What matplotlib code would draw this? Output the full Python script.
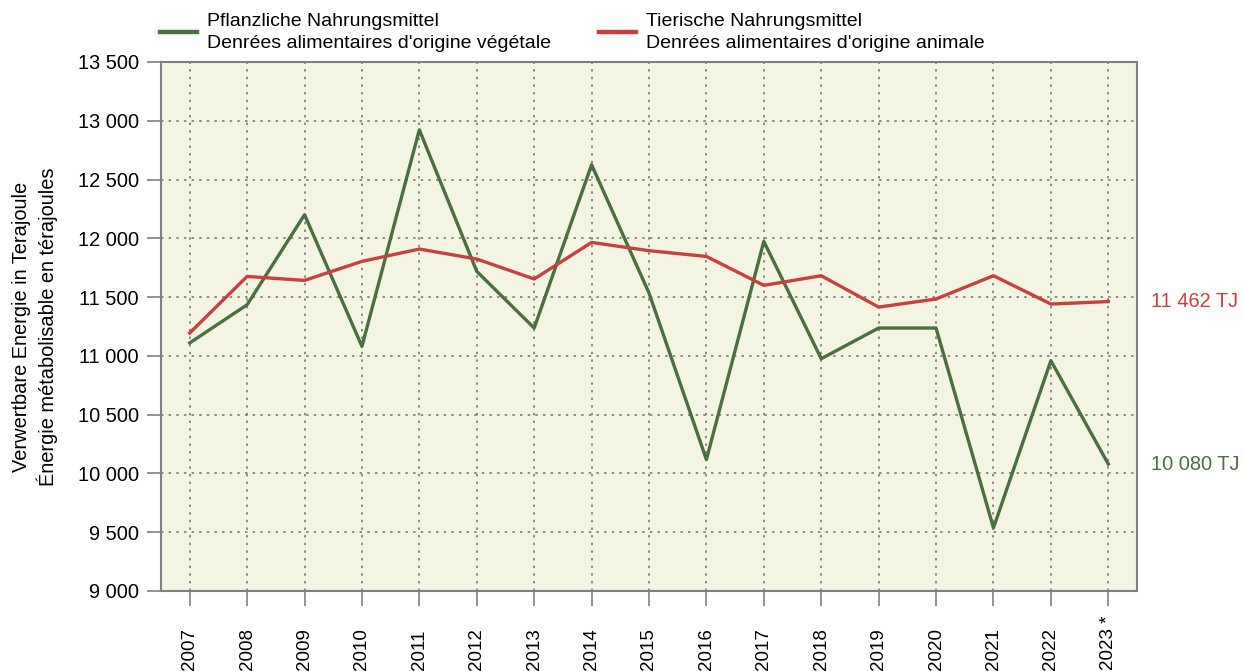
import matplotlib.pyplot as plt
from matplotlib.ticker import FuncFormatter, MultipleLocator
from matplotlib.transforms import blended_transform_factory

plt.rcParams["font.family"] = ["Liberation Sans", "DejaVu Sans"]

# --- Data -----------------------------------------------------------------

years = ["2007", "2008", "2009", "2010", "2011", "2012", "2013", "2014", "2015",
         "2016", "2017", "2018", "2019", "2020", "2021", "2022", "2023 *"]

plant_tj = [11110, 11435, 12201, 11081, 12923, 11719, 11237, 12626, 11535,
            10118, 11974, 10976, 11237, 11237, 9537, 10959, 10080]

animal_tj = [11195, 11676, 11642, 11804, 11909, 11824, 11654, 11965, 11895,
             11846, 11600, 11682, 11415, 11484, 11682, 11441, 11462]

plant_label = "Pflanzliche Nahrungsmittel\nDenrées alimentaires d'origine végétale"
animal_label = "Tierische Nahrungsmittel\nDenrées alimentaires d'origine animale"
ylabel = "Verwertbare Energie in Terajoule\nÉnergie métabolisable en térajoules"

GREEN = "#4B7040"
RED = "#C8403F"
BG = "#F4F4E3"
GRAY = "#808080"


def thousands(v, _pos):
    return f"{int(v):,}".replace(",", " ")


fig = plt.figure(figsize=(12.43, 6.71), dpi=100)
ax = fig.add_axes([161 / 1243, 1 - 591 / 671, 976 / 1243, 529 / 671])
ax.set_facecolor(BG)

x = list(range(len(years)))
plant_line, = ax.plot(x, plant_tj, color=GREEN, lw=2.4, label=plant_label, zorder=3)
animal_line, = ax.plot(x, animal_tj, color=RED, lw=2.4, label=animal_label, zorder=3)

ax.set_xlim(-0.5, len(years) - 0.5)
ax.set_ylim(9000, 13500)
ax.yaxis.set_major_locator(MultipleLocator(500))
ax.yaxis.set_major_formatter(FuncFormatter(thousands))
ax.set_xticks(x)
ax.set_xticklabels([])

# year labels: rotated, all ending at the bottom edge of the figure
year_trans = blended_transform_factory(ax.transData, fig.transFigure)
for i, yr in enumerate(years):
    ax.text(i, 1.5 / 671, yr, transform=year_trans, rotation=90,
            ha="center", va="bottom", fontsize=13.5)

ax.grid(True, color="#6E6E6E", lw=1.1, linestyle=(0, (1.6, 3.4)))
ax.set_axisbelow(True)

for side in ["left", "right", "top", "bottom"]:
    ax.spines[side].set_color(GRAY)
    ax.spines[side].set_linewidth(1.5)
ax.tick_params(axis="y", length=10, width=1.2, color=GRAY, pad=6, labelsize=14.4)
ax.tick_params(axis="x", length=10.5, width=1.2, color=GRAY)

ax.set_ylabel(ylabel, fontsize=14.4, labelpad=14, linespacing=1.3)

# end-of-series value labels
ax.annotate(f"{thousands(animal_tj[-1], None)} TJ", (x[-1], animal_tj[-1]),
            xytext=(31, 0), textcoords="offset points", va="center",
            color=RED, fontsize=14.4)
ax.annotate(f"{thousands(plant_tj[-1], None)} TJ", (x[-1], plant_tj[-1]),
            xytext=(31, 0), textcoords="offset points", va="center",
            color=GREEN, fontsize=14.4)

legend_kw = dict(loc="upper left", frameon=False, fontsize=14, handlelength=1.9,
                 handletextpad=0.5, borderpad=0, borderaxespad=0)
leg1 = fig.legend(handles=[plant_line], bbox_to_anchor=(160 / 1243, 1 - 13 / 671), **legend_kw)
leg2 = fig.legend(handles=[animal_line], bbox_to_anchor=(599 / 1243, 1 - 13 / 671), **legend_kw)
for leg in (leg1, leg2):
    for t in leg.get_texts():
        t.set_linespacing(1.35)
    for h in leg.legend_handles:
        h.set_linewidth(3.2)

fig.savefig("out.png", dpi=100, facecolor="white")
